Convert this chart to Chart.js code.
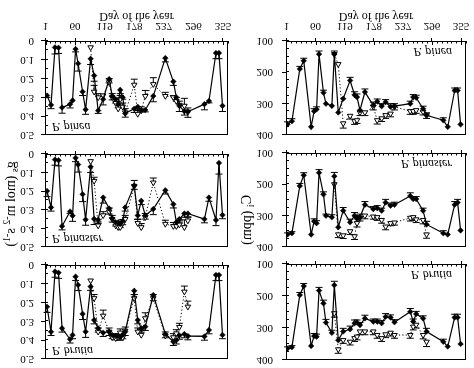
<!DOCTYPE html>
<html>
<head>
<meta charset="utf-8">
<script src="https://cdn.jsdelivr.net/npm/chart.js@4.4.1/dist/chart.umd.min.js"></script>
<style>
html, body { margin: 0; padding: 0; background: #fff; }
#wrap { position: relative; width: 474px; height: 368px; overflow: hidden; }
#wrap canvas { position: absolute; transform: scaleY(-1); }
</style>
</head>
<body>
<div id="wrap">
  <canvas id="gsPinea" width="234" height="140" style="left:0;top:0"></canvas>
  <canvas id="gsPinaster" width="234" height="112" style="left:0;top:140px"></canvas>
  <canvas id="gsBrutia" width="234" height="116" style="left:0;top:252px"></canvas>
  <canvas id="ciPinea" width="240" height="140" style="left:234px;top:0"></canvas>
  <canvas id="ciPinaster" width="240" height="112" style="left:234px;top:140px"></canvas>
  <canvas id="ciBrutia" width="240" height="116" style="left:234px;top:252px"></canvas>
</div>
<script>
// the published figure is mirrored top-to-bottom, so every canvas is flipped with css

var dayTicks = [1, 60, 119, 178, 237, 296, 355];

// stomatal conductance, sampling days
var gsDays = [4, 12, 20, 27, 34, 50, 55, 61, 66, 75, 81, 91, 98, 106, 116, 128, 134, 141, 146, 150, 155, 160, 178, 185, 192, 200, 216, 240, 256, 262, 268, 278, 285, 318, 327, 341, 347, 354];
var gsOpenDays = [91, 98, 106, 116, 128, 134, 141, 146, 150, 155, 160, 178, 185, 192, 200, 216, 240, 256, 262, 268, 278, 285];

var pineaGs = [0.29, 0.34, 0.034, 0.036, 0.354, 0.336, 0.316, 0.043, 0.12, 0.27, 0.365, 0.095, 0.184, 0.37, 0.31, 0.203, 0.293, 0.31, 0.335, 0.26, 0.30, 0.385, 0.36, 0.35, 0.367, 0.367, 0.293, 0.091, 0.216, 0.30, 0.345, 0.374, 0.376, 0.336, 0.319, 0.064, 0.064, 0.345];
var pineaGsErr = [0.01, 0.02, 0.035, 0.03, 0.03, 0.02, 0, 0.015, 0.04, 0.02, 0.025, 0.03, 0.03, 0.015, 0.03, 0.02, 0.02, 0.02, 0.02, 0.02, 0.01, 0.02, 0.02, 0.02, 0.01, 0.01, 0.03, 0.02, 0.02, 0.02, 0.03, 0.02, 0.03, 0.03, 0.01, 0.03, 0.03, 0.03];
var pineaGsOpen = [0.034, 0.27, 0.30, 0.29, 0.22, 0.30, 0.33, 0.36, 0.31, 0.35, 0.38, 0.233, 0.388, 0.37, 0.293, 0.23, 0.293, 0.30, 0.32, 0.34, 0.345, 0.376];
var pineaGsOpenErr = [0, 0.034, 0.02, 0, 0.02, 0.02, 0.02, 0.02, 0.02, 0.02, 0.02, 0.03, 0.02, 0.02, 0.03, 0.035, 0.02, 0.01, 0.02, 0.02, 0.04, 0.02];

var pinasterGs = [0.199, 0.287, 0.030, 0.034, 0.388, 0.309, 0.332, 0.021, 0.057, 0.216, 0.353, 0.069, 0.349, 0.353, 0.234, 0.293, 0.346, 0.367, 0.367, 0.376, 0.36, 0.287, 0.17, 0.33, 0.252, 0.33, 0.296, 0.195, 0.27, 0.367, 0.35, 0.32, 0.32, 0.35, 0.234, 0.355, 0.048, 0.328];
var pinasterGsErr = [0.03, 0.02, 0.03, 0.03, 0.02, 0.01, 0.03, 0.02, 0.04, 0.04, 0.03, 0.03, 0.03, 0.02, 0.03, 0.03, 0.02, 0.02, 0.02, 0.02, 0.02, 0.02, 0.02, 0.02, 0.02, 0.02, 0.03, 0.02, 0.02, 0.02, 0.02, 0.02, 0.02, 0.02, 0.02, 0.03, 0.06, 0.02];
var pinasterGsOpen = [0.039, 0.145, 0.385, 0.33, 0.31, 0.35, 0.385, 0.394, 0.394, 0.372, 0.35, 0.172, 0.372, 0.394, 0.34, 0.154, 0.376, 0.388, 0.388, 0.38, 0.394, 0.358];
var pinasterGsOpenErr = [0, 0.02, 0.02, 0.02, 0.02, 0.02, 0.02, 0.02, 0.02, 0.02, 0.02, 0.03, 0.02, 0.02, 0.02, 0.025, 0.02, 0.02, 0.02, 0.02, 0.04, 0.02];

var brutiaGs = [0.222, 0.355, 0.035, 0.041, 0.337, 0.395, 0.372, 0.062, 0.106, 0.26, 0.355, 0.115, 0.293, 0.337, 0.36, 0.355, 0.372, 0.378, 0.378, 0.38, 0.372, 0.355, 0.137, 0.293, 0.337, 0.328, 0.16, 0.367, 0.408, 0.4, 0.375, 0.367, 0.378, 0.38, 0.346, 0.053, 0.053, 0.372];
var brutiaGsErr = [0.03, 0.02, 0.03, 0.03, 0.02, 0.02, 0.02, 0.02, 0.03, 0.03, 0.03, 0.02, 0.02, 0.02, 0.02, 0.02, 0.02, 0.02, 0.02, 0.02, 0.02, 0.02, 0.02, 0.02, 0.02, 0.02, 0.03, 0.02, 0.02, 0.02, 0.02, 0.02, 0.02, 0.02, 0.02, 0.03, 0.03, 0.02];
var brutiaGsOpen = [0.083, 0.177, 0.355, 0.27, 0.355, 0.385, 0.39, 0.385, 0.36, 0.385, 0.35, 0.177, 0.355, 0.372, 0.284, 0.177, 0.376, 0.385, 0.364, 0.33, 0.142, 0.222];
var brutiaGsOpenErr = [0, 0.02, 0.02, 0.03, 0.02, 0.02, 0.02, 0.02, 0.02, 0.02, 0.02, 0.02, 0.02, 0.03, 0.03, 0.02, 0.02, 0.02, 0.02, 0.02, 0.03, 0.03];

// intercellular CO2, sampling days
var ciDays = [3, 12, 28, 36, 51, 57, 62, 67, 76, 81, 93, 98, 106, 116, 130, 139, 144, 150, 160, 177, 185, 194, 202, 212, 220, 252, 258, 264, 278, 285, 319, 328, 342, 348, 354];
var ciOpenDays = [98, 106, 116, 130, 139, 144, 150, 160, 177, 185, 194, 202, 212, 220, 252, 258, 264, 278, 285];

var pineaCi = [366, 356, 189, 163, 374, 324, 318, 142, 265, 300, 307, 142, 328, 284, 226, 272, 279, 321, 263, 305, 293, 308, 295, 310, 308, 300, 279, 281, 316, 337, 353, 374, 258, 258, 366];
var pineaCiErr = [8, 8, 8, 8, 0, 8, 8, 10, 8, 0, 0, 10, 0, 0, 10, 10, 10, 0, 10, 10, 8, 8, 8, 10, 8, 8, 8, 8, 8, 8, 8, 0, 8, 8, 0];
var pineaCiOpen = [142, 174, 363, 339, 356, 353, 328, 328, 310, 353, 347, 337, 332, 310, 324, 324, 321, 326, 337];
var pineaCiOpenErr = [0, 0, 15, 10, 10, 10, 10, 10, 10, 12, 10, 10, 10, 10, 10, 10, 10, 10, 10];

var pinasterCi = [360, 356, 205, 171, 360, 318, 324, 163, 232, 300, 305, 174, 337, 284, 321, 300, 310, 305, 265, 279, 276, 284, 258, 268, 265, 237, 247, 247, 284, 328, 356, 360, 265, 258, 347];
var pinasterCiErr = [5, 5, 8, 8, 0, 8, 8, 10, 8, 5, 8, 12, 0, 10, 10, 10, 10, 10, 10, 8, 8, 8, 10, 8, 8, 10, 8, 8, 8, 10, 8, 0, 10, 10, 0];
var pinasterCiOpen = [200, 360, 363, 350, 366, 324, 307, 300, 303, 305, 314, 335, 324, 322, 307, 305, 312, 314, 360];
var pinasterCiOpenErr = [0, 10, 10, 10, 10, 12, 10, 10, 8, 10, 10, 10, 8, 8, 10, 10, 10, 12, 12];

var brutiaCi = [364, 360, 197, 169, 356, 325, 327, 183, 223, 283, 315, 166, 338, 311, 304, 285, 283, 291, 270, 280, 280, 285, 265, 267, 282, 249, 280, 256, 270, 311, 343, 358, 267, 267, 350];
var brutiaCiErr = [5, 5, 8, 8, 0, 8, 8, 10, 10, 10, 8, 12, 0, 10, 10, 10, 8, 8, 10, 8, 8, 8, 10, 8, 8, 10, 8, 8, 8, 10, 8, 0, 10, 10, 0];
var brutiaCiOpen = [254, 367, 338, 343, 332, 327, 311, 311, 311, 322, 332, 320, 315, 322, 322, 296, 290, 322, 343];
var brutiaCiOpenErr = [12, 12, 10, 10, 10, 10, 10, 10, 10, 10, 10, 10, 10, 10, 10, 10, 10, 12, 15];

// axis titles with sub/superscripts: [text, shift] (shift -1 = subscript, 1 = superscript)
var gsTitle = [['g', 0], ['s', -1], [' (mol m', 0], ['-2', 1], [' s', 0], ['-1', 1], [')', 0]];
var ciTitle = [['C', 0], ['i', -1], [' (ppm)', 0]];

var serif = 'Liberation Serif';

function drawRich(ctx, segs, cx, cy) {
  var big = '14px "' + serif + '"', small = '10px "' + serif + '"';
  var total = 0;
  segs.forEach(function(s) { ctx.font = s[1] ? small : big; total += ctx.measureText(s[0]).width; });
  ctx.save();
  ctx.translate(cx, cy);
  ctx.rotate(-Math.PI / 2);
  ctx.textAlign = 'left';
  ctx.textBaseline = 'alphabetic';
  var px = -total / 2;
  segs.forEach(function(s) {
    ctx.font = s[1] ? small : big;
    var dy = s[1] === 1 ? -5 : (s[1] === -1 ? 2.5 : 0);
    ctx.fillText(s[0], px, 5 + dy);
    px += ctx.measureText(s[0]).width;
  });
  ctx.restore();
}

// error bars, frame, inward ticks, species name and axis title
var panelDecor = {
  id: 'panelDecor',
  beforeDatasetsDraw: function(chart) {
    var ctx = chart.ctx, x = chart.scales.x, y = chart.scales.y;
    ctx.save();
    ctx.strokeStyle = '#000';
    ctx.lineWidth = 1;
    chart.data.datasets.forEach(function(ds) {
      ds.data.forEach(function(p, j) {
        var e = ds.errs[j];
        if (!e || p.y == null) return;
        var px = x.getPixelForValue(p.x);
        var y0 = y.getPixelForValue(p.y);
        var y1 = y.getPixelForValue(p.y + ds.errDir * e);
        ctx.beginPath();
        ctx.moveTo(px, y0); ctx.lineTo(px, y1);
        ctx.moveTo(px - 3.5, y1); ctx.lineTo(px + 3.5, y1);
        ctx.stroke();
      });
    });
    ctx.restore();
  },
  afterDraw: function(chart, args, o) {
    var ctx = chart.ctx, a = chart.chartArea, x = chart.scales.x, y = chart.scales.y;
    ctx.save();
    ctx.strokeStyle = '#000';
    ctx.fillStyle = '#000';
    ctx.lineWidth = 1;
    ctx.strokeRect(a.left + 0.5, a.top + 0.5, a.width - 1, a.height - 1);
    ctx.beginPath();
    for (var k = 0; 1 + k * 59 / 6 <= 365; k++) {
      var px = Math.round(x.getPixelForValue(1 + k * 59 / 6)) + 0.5;
      var len = k % 6 === 0 ? 4 : 2.5;
      ctx.moveTo(px, a.bottom); ctx.lineTo(px, a.bottom - len);
    }
    for (var v = y.min; v <= y.max + 1e-9; v += o.minor) {
      var py = Math.round(y.getPixelForValue(v)) + 0.5;
      ctx.moveTo(a.left, py); ctx.lineTo(a.left + 3, py);
    }
    ctx.stroke();
    ctx.font = 'italic 12px "' + serif + '"';
    if (o.side === 'left') {
      ctx.textAlign = 'left';
      ctx.fillText(o.label, a.left + 7, a.top + 12);
    } else {
      ctx.textAlign = 'right';
      ctx.fillText(o.label, a.right - 14, a.bottom - 7);
    }
    if (o.title) drawRich(ctx, o.title, o.titleX, o.titleY);
    ctx.restore();
  }
};

function panel(id, o) {
  var solid = o.days.map(function(d, i) { return { x: d, y: o.solid[i] }; });
  var open = o.openDays.map(function(d, i) { return { x: d, y: o.open[i] }; });
  new Chart(document.getElementById(id), {
    type: 'line',
    data: {
      datasets: [{
        data: solid, errs: o.solidErr, errDir: o.dir, order: 0,
        borderColor: '#000', borderWidth: 1.2,
        pointStyle: 'rectRot', pointRadius: 2.8,
        pointBackgroundColor: '#000', pointBorderColor: '#000', pointBorderWidth: 0.5
      }, {
        data: open, errs: o.openErr, errDir: -o.dir, order: 1,
        borderColor: '#000', borderWidth: 1, borderDash: [1.2, 2.2],
        pointStyle: 'triangle', pointRadius: 3.2,
        pointBackgroundColor: '#fff', pointBorderColor: '#000', pointBorderWidth: 1
      }]
    },
    options: {
      responsive: false,
      animation: false,
      devicePixelRatio: 1,
      layout: { padding: { top: o.padTop, right: o.padRight, left: 0, bottom: 0 } },
      plugins: {
        legend: { display: false },
        tooltip: { enabled: false },
        panelDecor: { label: o.label, side: o.side, minor: o.minor,
                      title: o.yTitle, titleX: o.titleX, titleY: o.titleY }
      },
      scales: {
        x: {
          type: 'linear', min: 0, max: 365,
          afterBuildTicks: function(s) { s.ticks = dayTicks.map(function(v) { return { value: v }; }); },
          afterFit: function(s) { s.height = o.xHeight; s.paddingLeft = 0; s.paddingRight = 0; },
          grid: { drawOnChartArea: false, drawTicks: true, tickLength: 3, color: '#000' },
          border: { display: false },
          ticks: { display: o.showX, padding: 6, color: '#000', maxRotation: 0, autoSkip: false,
                   font: { family: serif, size: 11 } },
          title: { display: o.showX, text: 'Day of the year', color: '#000', padding: { top: 9, bottom: 9 },
                   font: { family: serif, size: 12 } }
        },
        y: {
          type: 'linear', min: o.min, max: o.max,
          afterFit: function(s) { s.width = o.yWidth; s.paddingTop = 0; s.paddingBottom = 0; },
          grid: { drawOnChartArea: false, drawTicks: true, tickLength: 4, color: '#000' },
          border: { display: false },
          ticks: { stepSize: o.step, padding: o.tickPad, color: '#000', font: { family: serif, size: 11 },
                   callback: o.fmt }
        }
      }
    },
    plugins: [panelDecor]
  });
}

function gsFmt(v) { return v === 0 ? '0' : v.toFixed(1); }
function ciFmt(v) { return String(v); }

var gsBase = { days: gsDays, openDays: gsOpenDays, dir: 1, min: 0, max: 0.5, step: 0.1, minor: 0.05,
               fmt: gsFmt, yWidth: 45, padRight: 6, tickPad: 7, side: 'left' };
var ciBase = { days: ciDays, openDays: ciOpenDays, dir: -1, min: 100, max: 400, step: 100, minor: 25,
               fmt: ciFmt, yWidth: 52, padRight: 8, tickPad: 9, side: 'right' };

function extend(base, more) {
  var r = {};
  for (var k in base) r[k] = base[k];
  for (var m in more) r[m] = more[m];
  return r;
}

panel('gsPinea', extend(gsBase, { solid: pineaGs, solidErr: pineaGsErr, open: pineaGsOpen, openErr: pineaGsOpenErr,
  label: 'P. pinea', padTop: 3, xHeight: 41, showX: true }));
panel('gsPinaster', extend(gsBase, { solid: pinasterGs, solidErr: pinasterGsErr, open: pinasterGsOpen, openErr: pinasterGsOpenErr,
  label: 'P. pinaster', padTop: 4, xHeight: 14, showX: false, yTitle: gsTitle, titleX: 10, titleY: 48 }));
panel('gsBrutia', extend(gsBase, { solid: brutiaGs, solidErr: brutiaGsErr, open: brutiaGsOpen, openErr: brutiaGsOpenErr,
  label: 'P. brutia', padTop: 9, xHeight: 13, showX: false }));

panel('ciPinea', extend(ciBase, { solid: pineaCi, solidErr: pineaCiErr, open: pineaCiOpen, openErr: pineaCiOpenErr,
  label: 'P. pinea', padTop: 4, xHeight: 41, showX: true }));
panel('ciPinaster', extend(ciBase, { solid: pinasterCi, solidErr: pinasterCiErr, open: pinasterCiOpen, openErr: pinasterCiOpenErr,
  label: 'P. pinaster', padTop: 4, xHeight: 13, showX: false, yTitle: ciTitle, titleX: 12, titleY: 32 }));
panel('ciBrutia', extend(ciBase, { solid: brutiaCi, solidErr: brutiaCiErr, open: brutiaCiOpen, openErr: brutiaCiOpenErr,
  label: 'P. brutia', padTop: 8, xHeight: 12, showX: false }));
</script>
</body>
</html>
